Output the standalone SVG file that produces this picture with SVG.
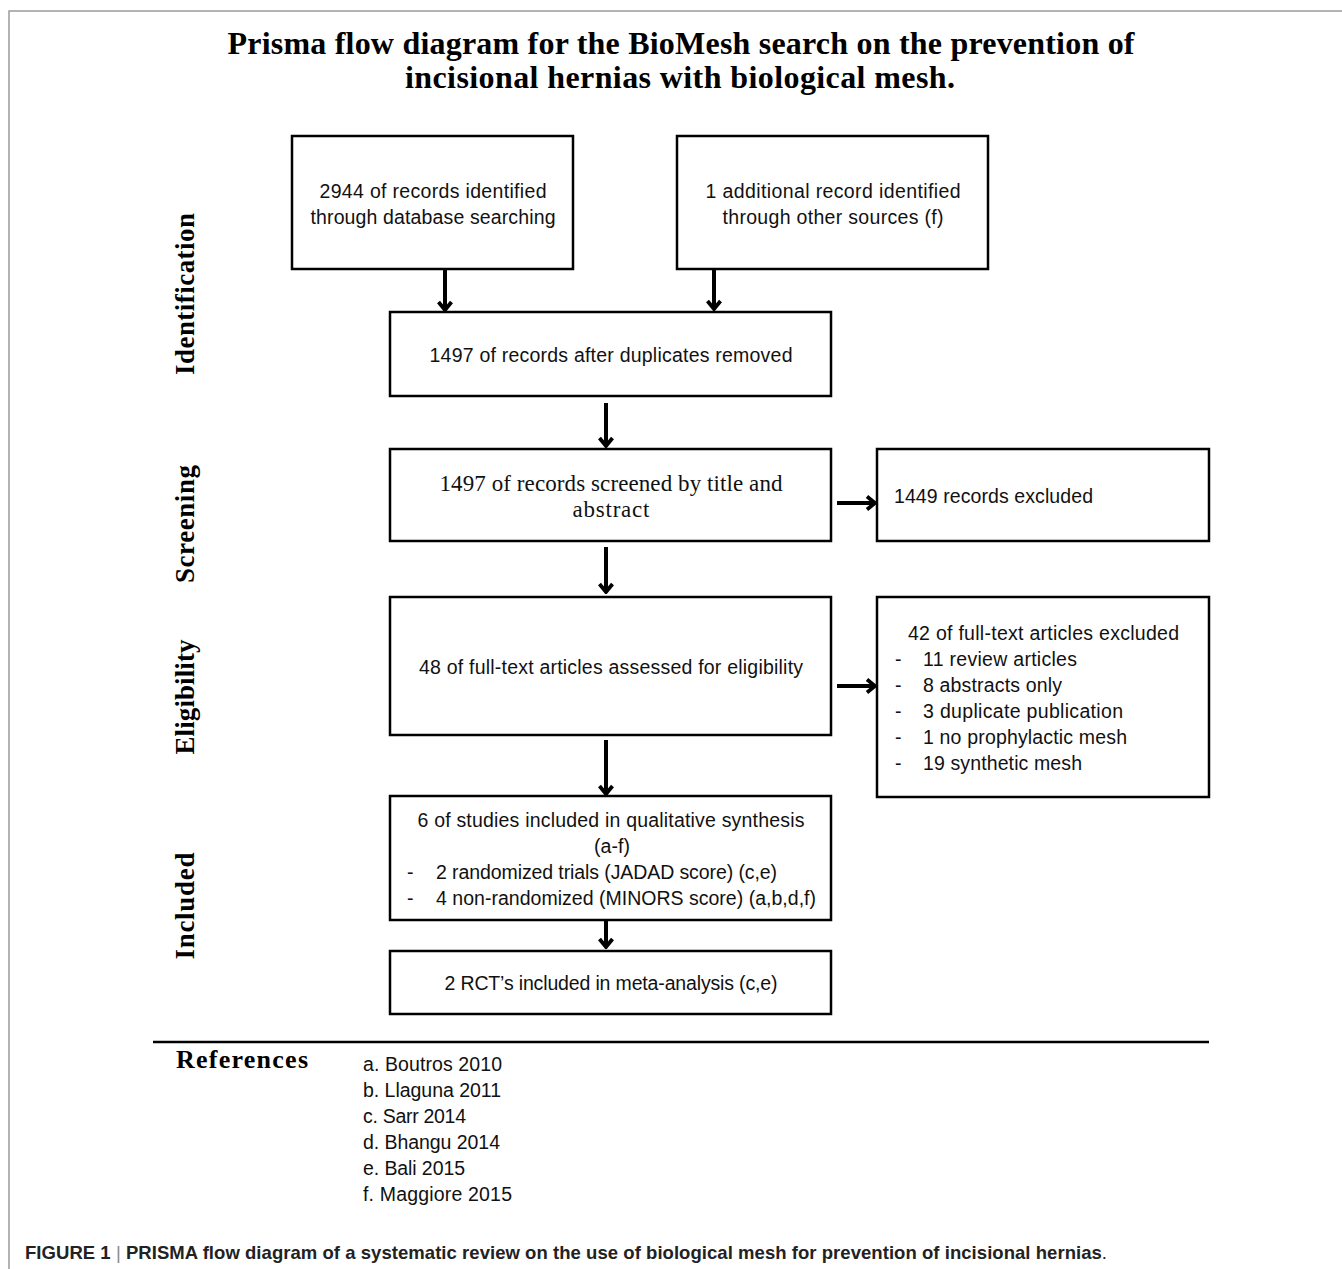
<svg xmlns="http://www.w3.org/2000/svg" width="1342" height="1269" viewBox="0 0 1342 1269">
<defs>
<style>
.box{fill:#fff;stroke:#000;stroke-width:2.5}
.t{font-family:"Liberation Sans",Arial,sans-serif;font-size:19.5px;fill:#111}
.ts{font-family:"Liberation Serif","Times New Roman",serif;font-size:23px;fill:#111}
.c{text-anchor:middle}
.title{font-family:"Liberation Serif","Times New Roman",serif;font-weight:bold;font-size:32px;fill:#000;text-anchor:middle}
.side{font-family:"Liberation Serif","Times New Roman",serif;font-weight:bold;font-size:27px;fill:#000;text-anchor:middle}
.conn{stroke:#000;stroke-width:4;fill:none;marker-end:url(#ah)}
.cap{font-family:"Liberation Sans",Arial,sans-serif;font-size:18.5px;fill:#222}
</style>
<marker id="ah" viewBox="0 0 12 16" refX="10" refY="8" markerWidth="12" markerHeight="16" markerUnits="userSpaceOnUse" orient="auto">
<path d="M2,1.5 L10,8 L2,14.5" fill="none" stroke="#000" stroke-width="3.8"/>
</marker>
</defs>
<rect width="1342" height="1269" fill="#fff"/>
<path d="M9,1269 V11 H1342" fill="none" stroke="#9a9a9a" stroke-width="1.5"/>

<g id="title">
<text class="title" x="681" y="54" textLength="907">Prisma flow diagram for the BioMesh search on the prevention of</text>
<text class="title" x="680" y="88" textLength="550">incisional hernias with biological mesh.</text>
</g>

<g id="phase-labels">
<text class="side" transform="translate(194,294) rotate(-90)" textLength="162">Identification</text>
<text class="side" transform="translate(194,524) rotate(-90)" textLength="118">Screening</text>
<text class="side" transform="translate(194,697) rotate(-90)" textLength="115">Eligibility</text>
<text class="side" transform="translate(194,906) rotate(-90)" textLength="107">Included</text>
</g>

<g id="connectors">
<line class="conn" x1="445" y1="270" x2="445" y2="310"/>
<line class="conn" x1="714" y1="269" x2="714" y2="309"/>
<line class="conn" x1="606" y1="403" x2="606" y2="446"/>
<line class="conn" x1="606" y1="547" x2="606" y2="592"/>
<line class="conn" x1="606" y1="740" x2="606" y2="794"/>
<line class="conn" x1="606" y1="921" x2="606" y2="947"/>
<line class="conn" x1="837" y1="503" x2="875" y2="503"/>
<line class="conn" x1="837" y1="686" x2="875" y2="686"/>
</g>

<g id="n-database">
<rect class="box" x="292" y="136" width="281" height="133"/>
<text class="t c" x="433" y="198" textLength="227">2944 of records identified</text>
<text class="t c" x="433" y="224" textLength="245">through database searching</text>
</g>

<g id="n-other">
<rect class="box" x="677" y="136" width="311" height="133"/>
<text class="t c" x="833" y="198" textLength="255">1 additional record identified</text>
<text class="t c" x="833" y="224" textLength="221">through other sources (f)</text>
</g>

<g id="n-duplicates">
<rect class="box" x="390" y="312" width="441" height="84"/>
<text class="t c" x="611" y="362" textLength="363">1497 of records after duplicates removed</text>
</g>

<g id="n-screened">
<rect class="box" x="390" y="449" width="441" height="92"/>
<text class="ts c" x="611" y="491" textLength="343">1497 of records screened by title and</text>
<text class="ts c" x="611" y="517" textLength="77">abstract</text>
</g>

<g id="n-excluded">
<rect class="box" x="877" y="449" width="332" height="92"/>
<text class="t" x="894" y="503" textLength="199">1449 records excluded</text>
</g>

<g id="n-fulltext">
<rect class="box" x="390" y="597" width="441" height="138"/>
<text class="t c" x="611" y="674" textLength="384">48 of full-text articles assessed for eligibility</text>
</g>

<g id="n-fulltext-excluded">
<rect class="box" x="877" y="597" width="332" height="200"/>
<text class="t" x="908" y="640" textLength="271">42 of full-text articles excluded</text>
<text class="t" x="895" y="666">-</text><text class="t" x="923" y="666" textLength="154">11 review articles</text>
<text class="t" x="895" y="692">-</text><text class="t" x="923" y="692" textLength="139">8 abstracts only</text>
<text class="t" x="895" y="718">-</text><text class="t" x="923" y="718" textLength="200">3 duplicate publication</text>
<text class="t" x="895" y="744">-</text><text class="t" x="923" y="744" textLength="204">1 no prophylactic mesh</text>
<text class="t" x="895" y="770">-</text><text class="t" x="923" y="770" textLength="159">19 synthetic mesh</text>
</g>

<g id="n-qualitative">
<rect class="box" x="390" y="796" width="441" height="124"/>
<text class="t c" x="611" y="827" textLength="387">6 of studies included in qualitative synthesis</text>
<text class="t c" x="612" y="853" textLength="36">(a-f)</text>
<text class="t" x="407" y="879">-</text><text class="t" x="436" y="879" textLength="341">2 randomized trials (JADAD score) (c,e)</text>
<text class="t" x="407" y="905">-</text><text class="t" x="436" y="905" textLength="380">4 non-randomized (MINORS score) (a,b,d,f)</text>
</g>

<g id="n-meta">
<rect class="box" x="390" y="951" width="441" height="63"/>
<text class="t c" x="611" y="990" textLength="333">2 RCT’s included in meta-analysis (c,e)</text>
</g>

<g id="references">
<line x1="153" y1="1042" x2="1209" y2="1042" stroke="#000" stroke-width="2.5"/>
<text x="176" y="1068" textLength="132" style="font-family:'Liberation Serif','Times New Roman',serif;font-weight:bold;font-size:26px;fill:#000">References</text>
<text class="t" x="363" y="1071" textLength="139">a. Boutros 2010</text>
<text class="t" x="363" y="1097" textLength="138">b. Llaguna 2011</text>
<text class="t" x="363" y="1123" textLength="103">c. Sarr 2014</text>
<text class="t" x="363" y="1149" textLength="137">d. Bhangu 2014</text>
<text class="t" x="363" y="1175" textLength="102">e. Bali 2015</text>
<text class="t" x="363" y="1201" textLength="149">f. Maggiore 2015</text>
</g>

<g id="caption">
<text class="cap" x="25" y="1259" textLength="1082"><tspan font-weight="bold">FIGURE 1 </tspan><tspan fill="#888">|</tspan><tspan font-weight="bold"> PRISMA flow diagram of a systematic review on the use of biological mesh for prevention of incisional hernias</tspan>.</text>
</g>
</svg>
